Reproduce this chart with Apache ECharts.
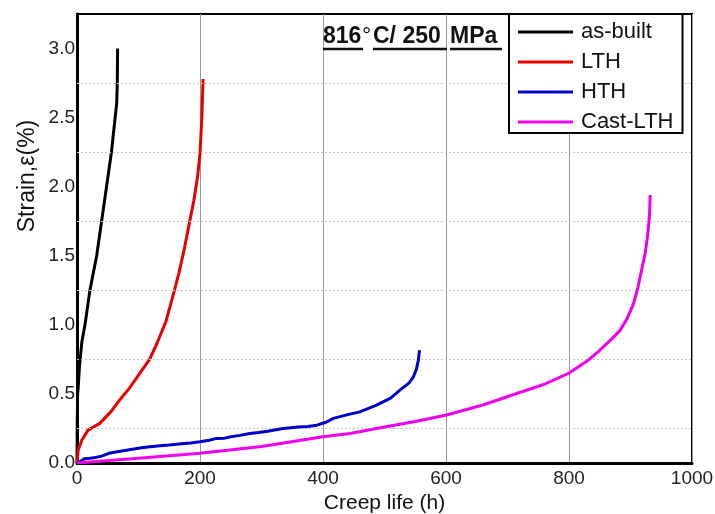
<!DOCTYPE html>
<html>
<head>
<meta charset="utf-8">
<script src="https://cdn.jsdelivr.net/npm/echarts@6/dist/echarts.min.js"></script>
<style>
  html, body { margin: 0; padding: 0; background: #fff; }
  #chart { width: 715px; height: 514px; }
</style>
</head>
<body>
<div id="chart"></div>
<script>
// creep curves (hours, strain %)
const seriesNames = ['as-built', 'LTH', 'HTH', 'Cast-LTH'];
const seriesColors = ['#000000', '#e60000', '#0000cc', '#ee00ee'];

const asBuiltHours  = [0, 0.3, 1, 2, 4, 8, 13, 21, 32, 40, 48, 56, 62, 64.5, 65.5, 66];
const asBuiltStrain = [0, 0.25, 0.5, 0.55, 0.7, 0.88, 1.0, 1.25, 1.5, 1.75, 2.0, 2.25, 2.5, 2.6, 2.75, 3.0];

const lthHours  = [0, 1, 2, 8, 18, 37, 55, 67, 85, 102, 118, 130, 145, 157, 166, 174, 182, 190, 196, 200, 203, 204, 205];
const lthStrain = [0, 0.05, 0.094, 0.166, 0.238, 0.287, 0.37, 0.443, 0.54, 0.648, 0.75, 0.865, 1.03, 1.226, 1.38, 1.54, 1.72, 1.9, 2.07, 2.24, 2.5, 2.65, 2.78];

const hthHours  = [0, 5, 12, 21, 30, 40, 52, 65, 78, 90, 105, 119, 135, 150, 170, 185, 200, 215, 227, 240, 250, 265, 281, 295, 310, 335, 360, 375, 390, 405, 417, 440, 460, 487, 510, 525, 540, 547, 552, 555, 557];
const hthStrain = [0, 0.01, 0.03, 0.034, 0.04, 0.05, 0.07, 0.082, 0.09, 0.1, 0.11, 0.118, 0.125, 0.13, 0.14, 0.145, 0.154, 0.165, 0.178, 0.18, 0.19, 0.2, 0.214, 0.22, 0.23, 0.25, 0.26, 0.265, 0.274, 0.295, 0.323, 0.35, 0.37, 0.419, 0.47, 0.527, 0.58, 0.624, 0.68, 0.744, 0.816];

const castHours  = [0, 100, 200, 300, 400, 444, 500, 550, 601, 660, 715, 760, 799, 830, 850, 870, 883, 895, 905, 912, 918, 924, 928, 931, 932];
const castStrain = [0, 0.035, 0.07, 0.12, 0.19, 0.214, 0.26, 0.3, 0.347, 0.42, 0.503, 0.57, 0.648, 0.74, 0.816, 0.9, 0.96, 1.05, 1.154, 1.27, 1.395, 1.52, 1.65, 1.8, 1.94];

// dotted guide lines sit between the labelled ticks
const minorGridStrain = [0.25, 0.75, 1.25, 1.75, 2.25, 2.75];

const hours = [asBuiltHours, lthHours, hthHours, castHours];
const strains = [asBuiltStrain, lthStrain, hthStrain, castStrain];

const FONT = 'Arial, "Liberation Sans", sans-serif';

const chart = echarts.init(document.getElementById('chart'));

const series = seriesNames.map((name, i) => {
  const s = {
    name: name,
    type: 'line',
    data: hours[i].map((h, k) => [h, strains[i][k]]),
    showSymbol: false,
    lineStyle: { color: seriesColors[i], width: 3, join: 'round' },
    itemStyle: { color: seriesColors[i] },
    z: 3 + i
  };
  if (i === 0) {
    s.markLine = {
      silent: true,
      symbol: 'none',
      label: { show: false },
      lineStyle: { color: '#c4c4c4', type: [2, 2], width: 1 },
      data: minorGridStrain.map(v => ({ yAxis: v }))
    };
  }
  return s;
});

const titleFont = 'bold 23px ' + FONT;
const ul = (x1, x2) => ({
  type: 'line', z: 20,
  shape: { x1: x1, y1: 49, x2: x2, y2: 49 },
  style: { stroke: '#111', lineWidth: 2.5 }
});

const option = {
  backgroundColor: '#fff',
  animation: false,
  grid: {
    left: 77, right: 23, top: 14, bottom: 51,
    outerBoundsMode: 'none',
    containLabel: false,
    show: true, borderColor: '#000', borderWidth: 2
  },
  xAxis: {
    type: 'value',
    min: 0, max: 1000, interval: 200,
    name: 'Creep life (h)',
    nameLocation: 'middle',
    nameGap: 30,
    nameTextStyle: { fontFamily: FONT, fontSize: 21, color: '#111' },
    axisLine: { lineStyle: { color: '#000', width: 3 } },
    axisTick: { show: false },
    axisLabel: { fontFamily: FONT, fontSize: 19, color: '#222', margin: 6, formatter: v => String(v) },
    splitLine: { show: true, lineStyle: { color: '#999', width: 1 } }
  },
  yAxis: {
    type: 'value',
    min: 0, max: 3.25, interval: 0.5,
    axisLine: { show: true, lineStyle: { color: '#000', width: 3 } },
    axisTick: { show: false },
    axisLabel: {
      fontFamily: FONT, fontSize: 19, color: '#222', margin: 2,
      formatter: v => (Math.abs(v / 0.5 - Math.round(v / 0.5)) < 1e-6 ? v.toFixed(1) : '')
    },
    splitLine: { show: false }
  },
  legend: {
    data: seriesNames,
    orient: 'vertical',
    left: 509, top: 14,
    padding: [7, 9, 0, 9],
    itemGap: 8,
    itemWidth: 55, itemHeight: 3,
    icon: 'rect',
    borderColor: '#000', borderWidth: 2,
    backgroundColor: '#fff',
    textStyle: { fontFamily: FONT, fontSize: 22, color: '#111', lineHeight: 22, padding: [0, 0, 0, 3] },
    z: 10
  },
  graphic: [
    { type: 'text', left: 323, top: 25, z: 20, style: { text: '816', font: titleFont, fill: '#111' } },
    { type: 'text', left: 362, top: 25, z: 20, style: { text: '°', font: '23px ' + FONT, fill: '#111' } },
    { type: 'text', left: 373, top: 25, z: 20, style: { text: 'C/ 250', font: titleFont, fill: '#111' } },
    { type: 'text', left: 450, top: 25, z: 20, style: { text: 'MPa', font: titleFont, fill: '#111' } },
    ul(323, 363), ul(373, 447), ul(450, 502),
    {
      type: 'text', x: 28, y: 176, rotation: Math.PI / 2, z: 20,
      style: { text: 'Strain,ε(%)', font: '23px ' + FONT, fill: '#111', align: 'center', verticalAlign: 'middle' }
    }
  ],
  series: series
};

chart.setOption(option);
</script>
</body>
</html>
